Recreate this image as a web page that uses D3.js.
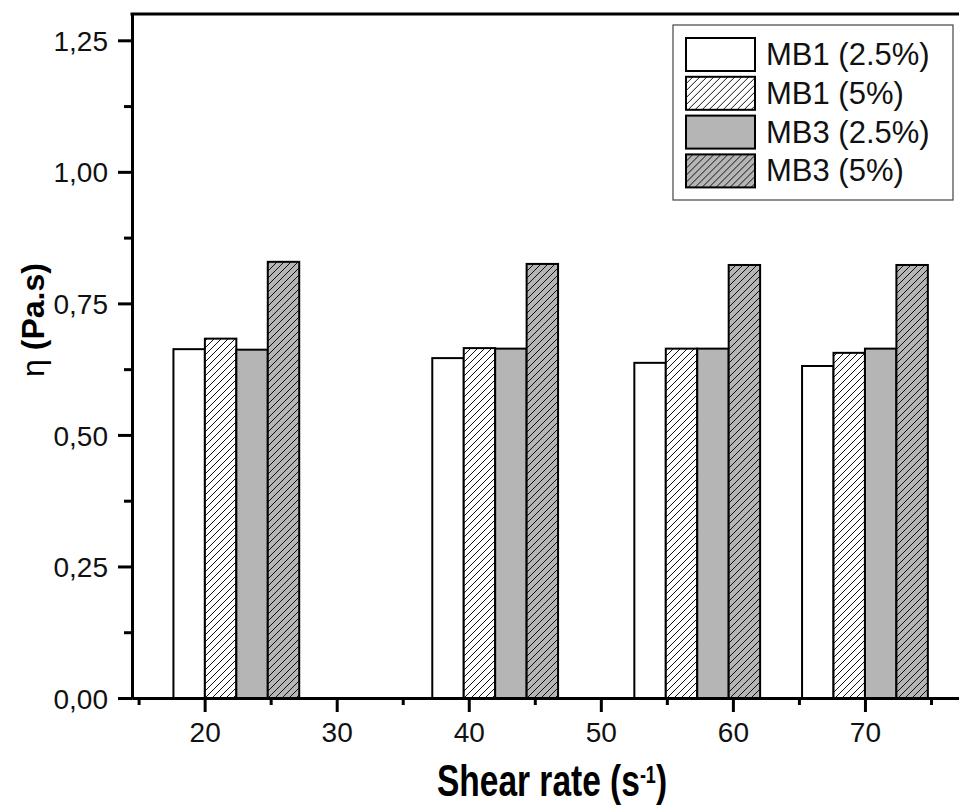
<!DOCTYPE html>
<html>
<head>
<meta charset="utf-8">
<script src="https://cdn.jsdelivr.net/npm/d3@7"></script>
<style>
  body { margin: 0; background: #fff; }
  svg { display: block; font-family: "Liberation Sans", Arial, sans-serif; }
</style>
</head>
<body>
<svg id="chart"></svg>
<script>
// data
let shearRate = [22.4, 42.0, 57.3, 70.0]
let mb1_25 = [0.663, 0.646, 0.637, 0.631]
let mb1_5 = [0.683, 0.665, 0.664, 0.656]
let mb3_25 = [0.662, 0.664, 0.664, 0.664]
let mb3_5 = [0.829, 0.825, 0.823, 0.823]
let seriesNames = ["MB1 (2.5%)", "MB1 (5%)", "MB3 (2.5%)", "MB3 (5%)"]
let xTicks = [20, 30, 40, 50, 60, 70]
let yTicks = [0, 0.25, 0.5, 0.75, 1.0, 1.25]

let series = [mb1_25, mb1_5, mb3_25, mb3_5]
let fills = ["#ffffff", "url(#hatchLight)", "#b5b5b5", "url(#hatchDark)"]

let svgWidth = 959, svgHeight = 806
let plotLeft = 132, plotTop = 14, plotRight = 964, plotBottom = 698

let svg = d3.select("#chart").attr("width", svgWidth).attr("height", svgHeight)

// hatch patterns
let defs = svg.append("defs")
function hatch(id, bg) {
  let p = defs.append("pattern").attr("id", id)
    .attr("patternUnits", "userSpaceOnUse")
    .attr("width", 7).attr("height", 7)
  p.append("rect").attr("width", 7).attr("height", 7).attr("fill", bg)
  p.append("path").attr("d", "M-2,2 L2,-2 M0,7 L7,0 M5,9 L9,5")
    .attr("stroke", "#111").attr("stroke-width", 1)
}
hatch("hatchLight", "#ffffff")
hatch("hatchDark", "#b5b5b5")

let x = d3.scaleLinear().domain([14.5, 77.5]).range([plotLeft, plotRight])
let y = d3.scaleLinear().domain([0, 1.3]).range([plotBottom, plotTop])

// bars: group width is 75% of the smallest x spacing (Origin style)
let minGap = d3.min(d3.pairs(shearRate), p => p[1] - p[0])
let barW = minGap * 0.75 / series.length

series.forEach((vals, s) => {
  svg.append("g").selectAll("rect")
    .data(vals)
    .enter()
    .append("rect")
    .attr("x", (d, i) => x(shearRate[i] + (s - series.length / 2) * barW))
    .attr("width", (d, i) => x(shearRate[i] + barW) - x(shearRate[i]))
    .attr("y", d => y(d))
    .attr("height", d => y(0) - y(d))
    .attr("fill", fills[s])
    .attr("stroke", "#000")
    .attr("stroke-width", 2)
})

// axes
let fmt = d => d3.format(".2f")(d).replace(".", ",")

let xAxis = svg.append("g")
  .attr("transform", "translate(0," + plotBottom + ")")
  .call(d3.axisBottom(x).tickValues(xTicks).tickSize(14).tickPadding(10).tickSizeOuter(0))
let xMinor = svg.append("g")
  .attr("transform", "translate(0," + plotBottom + ")")
  .call(d3.axisBottom(x).tickValues(d3.range(15, 80, 10)).tickSize(7).tickFormat("").tickSizeOuter(0))

let yAxis = svg.append("g")
  .attr("transform", "translate(" + plotLeft + ",0)")
  .call(d3.axisLeft(y).tickValues(yTicks).tickSize(14).tickPadding(10).tickFormat(fmt).tickSizeOuter(0))
let yMinor = svg.append("g")
  .attr("transform", "translate(" + plotLeft + ",0)")
  .call(d3.axisLeft(y).tickValues(d3.range(0.125, 1.3, 0.25)).tickSize(8).tickFormat("").tickSizeOuter(0))

;[xAxis, xMinor, yAxis, yMinor].forEach(g => {
  g.selectAll("path").attr("stroke-width", 3).attr("stroke", "#000")
  g.selectAll("line").attr("stroke-width", 3).attr("stroke", "#000")
  g.selectAll("text").attr("font-size", 28).attr("fill", "#111")
    .attr("font-family", "'Liberation Sans', Arial, sans-serif")
})
yAxis.selectAll("text").attr("dy", "0.36em")

// top frame line
svg.append("line")
  .attr("x1", plotLeft - 1.5).attr("x2", plotRight)
  .attr("y1", plotTop).attr("y2", plotTop)
  .attr("stroke", "#000").attr("stroke-width", 3)

// axis titles (x title is drawn taller than wide in the original)
svg.append("text")
  .attr("transform", "translate(552,796) scale(1,1.3)")
  .attr("text-anchor", "middle")
  .attr("font-size", 33.5).attr("font-weight", "bold")
  .call(t => {
    t.append("tspan").text("Shear rate (s")
    t.append("tspan").attr("font-size", 18).attr("dy", -10).text("-1")
    t.append("tspan").attr("dy", 10).text(")")
  })

svg.append("text")
  .attr("transform", "translate(44,320) rotate(-90)")
  .attr("text-anchor", "middle")
  .attr("font-size", 32).attr("font-weight", "bold")
  .call(t => {
    t.append("tspan").attr("font-weight", "normal").text("η")
    t.append("tspan").text(" (Pa.s)")
  })

// legend
let legend = svg.append("g")
legend.append("rect")
  .attr("x", 673).attr("y", 25).attr("width", 280).attr("height", 175)
  .attr("fill", "#fff").attr("stroke", "#444").attr("stroke-width", 1.2)

let item = legend.selectAll("g.item")
  .data(seriesNames)
  .enter()
  .append("g")
  .attr("transform", (d, i) => "translate(686," + (38 + i * 38.8) + ")")
item.append("rect")
  .attr("width", 69).attr("height", 33)
  .attr("fill", (d, i) => fills[i])
  .attr("stroke", "#000").attr("stroke-width", 2)
item.append("text")
  .attr("x", 80).attr("y", 27)
  .attr("font-size", 31).attr("fill", "#111")
  .text(d => d)
</script>
</body>
</html>
